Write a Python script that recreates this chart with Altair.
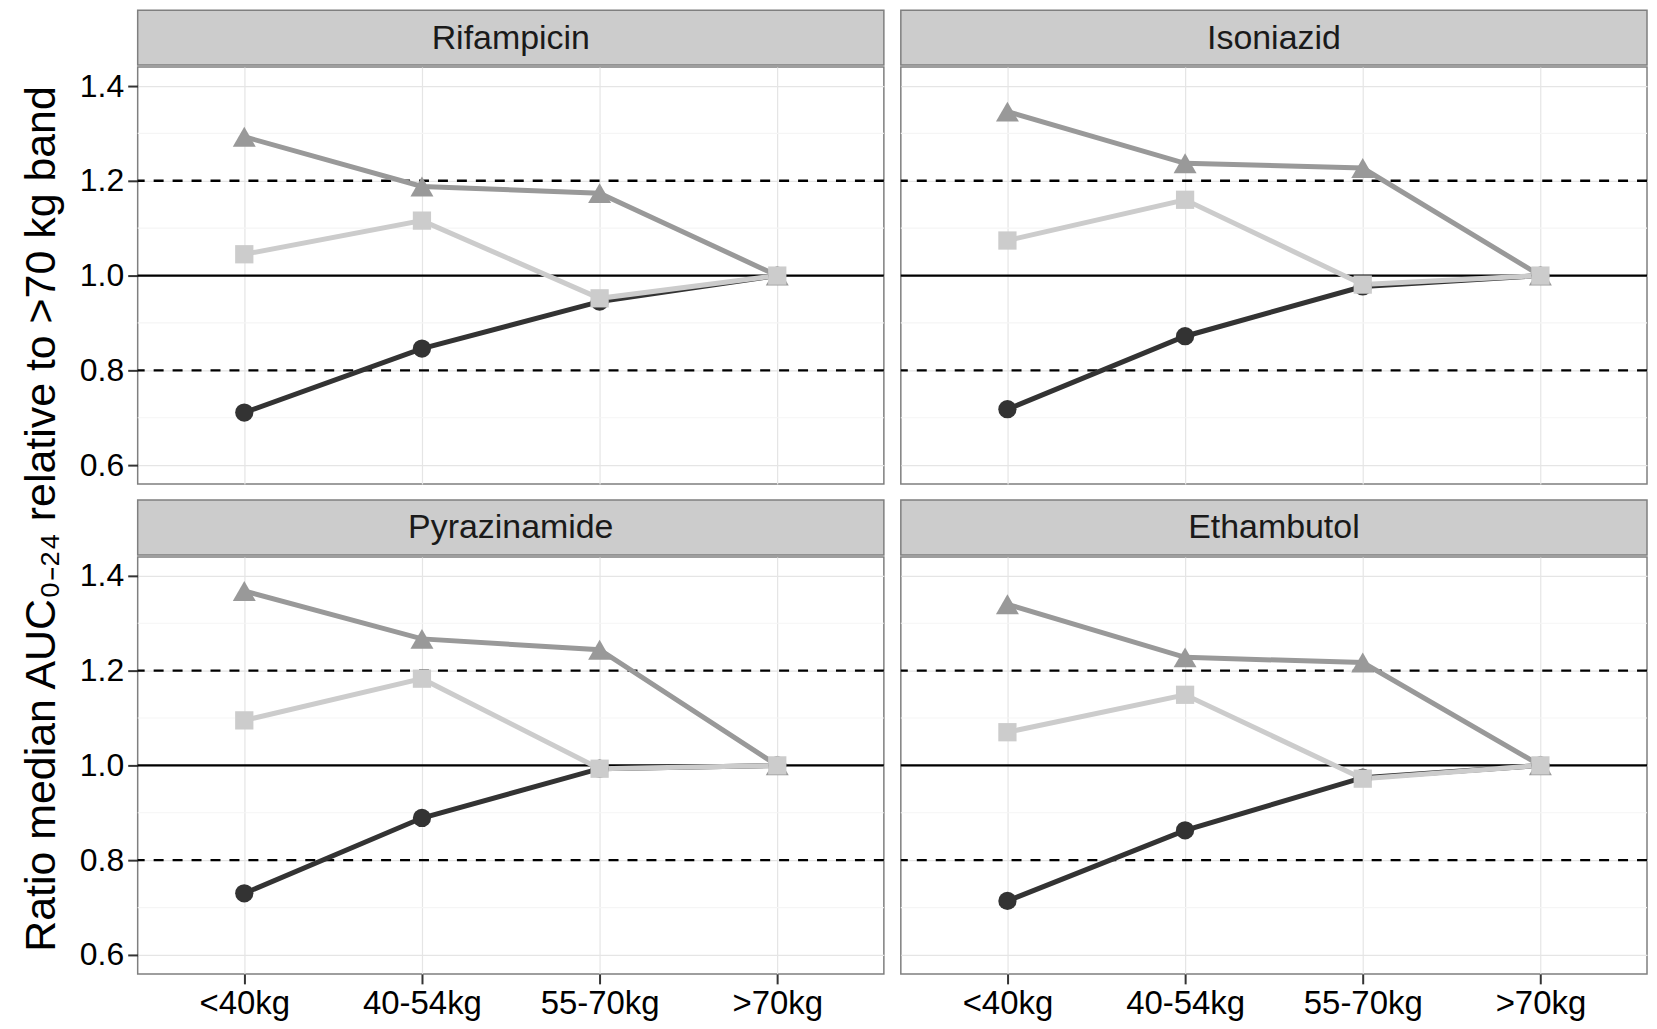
import altair as alt
import pandas as pd

FONT = "Liberation Sans"

drugs = ["Rifampicin", "Isoniazid", "Pyrazinamide", "Ethambutol"]
weight_bands = ["<40kg", "40-54kg", "55-70kg", ">70kg"]
series_names = ["Series 1", "Series 2", "Series 3"]  # circle, triangle, square

# series 1 (dark circles)
s1_rifampicin = [0.711, 0.846, 0.945, 1.0]
s1_isoniazid = [0.718, 0.872, 0.977, 1.0]
s1_pyrazinamide = [0.730, 0.889, 0.993, 1.0]
s1_ethambutol = [0.714, 0.863, 0.974, 1.0]
# series 2 (mid-grey triangles)
s2_rifampicin = [1.293, 1.188, 1.174, 1.0]
s2_isoniazid = [1.346, 1.237, 1.227, 1.0]
s2_pyrazinamide = [1.368, 1.267, 1.244, 1.0]
s2_ethambutol = [1.340, 1.228, 1.217, 1.0]
# series 3 (light-grey squares)
s3_rifampicin = [1.045, 1.116, 0.952, 1.0]
s3_isoniazid = [1.074, 1.160, 0.981, 1.0]
s3_pyrazinamide = [1.095, 1.183, 0.993, 1.0]
s3_ethambutol = [1.070, 1.149, 0.972, 1.0]

dashed_refs = [0.8, 1.2]
solid_refs = [1.0]
major_ticks = [0.6, 0.8, 1.0, 1.2, 1.4]
minor_ticks = [0.7, 0.9, 1.1, 1.3]
y_title = "Ratio median AUC\u2080\u208b\u2082\u2084 relative to >70 kg band"

values = {
    "Series 1": [s1_rifampicin, s1_isoniazid, s1_pyrazinamide, s1_ethambutol],
    "Series 2": [s2_rifampicin, s2_isoniazid, s2_pyrazinamide, s2_ethambutol],
    "Series 3": [s3_rifampicin, s3_isoniazid, s3_pyrazinamide, s3_ethambutol],
}
rows = []
for s in series_names:
    for di, d in enumerate(drugs):
        for bi, b in enumerate(weight_bands):
            rows.append({"drug": d, "band": b, "series": s, "value": values[s][di][bi]})
df = pd.DataFrame(rows)

styles = {
    "Series 1": ("#333333", "circle", 335),
    "Series 2": ("#999999", "triangle-up", 530),
    "Series 3": ("#CCCCCC", "square", 335),
}

W, H, SH = 748, 418, 55
ROWGAP, COLGAP = 14, 13
TOTAL_H = SH + H + ROWGAP + SH + H

ydomain = [0.56, 1.44]


def x_enc(show):
    if show:
        ax = alt.Axis(title=None, labelAngle=0, labelFontSize=33, labelFont=FONT,
                      labelColor="#000000", tickColor="#333333", tickSize=10, tickWidth=2,
                      labelPadding=4, domain=False, grid=True, gridColor="#E5E5E5",
                      gridWidth=1.2)
    else:
        ax = alt.Axis(title=None, labels=False, ticks=False, domain=False, grid=True,
                      gridColor="#E5E5E5", gridWidth=1.2)
    return alt.X("band:N", sort=weight_bands,
                 scale=alt.Scale(type="point", padding=0.6, domain=weight_bands), axis=ax)


def y_enc(show, field="value"):
    if show:
        ax = alt.Axis(title=None, values=major_ticks, format=".1f", labelFontSize=32,
                      labelFont=FONT, labelColor="#000000", tickColor="#333333",
                      tickSize=10, tickWidth=2, labelPadding=4, domain=False, grid=True,
                      gridColor="#E5E5E5", gridWidth=1.2)
    else:
        ax = alt.Axis(title=None, values=major_ticks, labels=False, ticks=False,
                      domain=False, grid=True, gridColor="#E5E5E5", gridWidth=1.2)
    return alt.Y(f"{field}:Q", scale=alt.Scale(domain=ydomain, nice=False, zero=False), axis=ax)


def plot(drug, show_x, show_y):
    d = df[df.drug == drug]
    layers = []
    layers.append(alt.Chart(pd.DataFrame({"value": minor_ticks})).mark_rule(
        color="#F5F5F5", strokeWidth=1.2).encode(y=y_enc(show_y)))
    layers.append(alt.Chart(pd.DataFrame({"value": dashed_refs})).mark_rule(
        color="#000000", strokeWidth=2.4, strokeDash=[10, 9]).encode(y=y_enc(show_y)))
    layers.append(alt.Chart(pd.DataFrame({"value": solid_refs})).mark_rule(
        color="#000000", strokeWidth=2.4).encode(y=y_enc(show_y)))
    for s in series_names:
        c, shp, sz = styles[s]
        layers.append(alt.Chart(d[d.series == s]).mark_line(color=c, strokeWidth=5).encode(
            x=x_enc(show_x), y=y_enc(show_y)))
    for s in series_names:
        c, shp, sz = styles[s]
        layers.append(alt.Chart(d[d.series == s]).mark_point(
            filled=True, shape=shp, size=sz, color=c, opacity=1).encode(
            x=x_enc(show_x), y=y_enc(show_y)))
    return alt.layer(*layers).properties(width=W, height=H)


def strip(drug):
    return alt.Chart(pd.DataFrame({"drug": [drug]})).mark_text(
        font=FONT, fontSize=34, color="#1A1A1A", baseline="middle", align="center", dy=1
    ).encode(text="drug:N", x=alt.value(W / 2), y=alt.value(SH / 2)).properties(
        width=W, height=SH,
        view=alt.ViewBackground(fill="#CCCCCC", stroke="#7F7F7F", strokeWidth=1.5))


def panel(drug, show_x, show_y):
    return alt.vconcat(strip(drug), plot(drug, show_x, show_y), spacing=0)


row1 = alt.hconcat(panel(drugs[0], False, True), panel(drugs[1], False, False),
                   spacing=COLGAP)
row2 = alt.hconcat(panel(drugs[2], True, True), panel(drugs[3], True, False),
                   spacing=COLGAP)
grid = alt.vconcat(row1, row2, spacing=ROWGAP)

ytitle = alt.Chart(pd.DataFrame({"t": [y_title]})).mark_text(
    angle=270, fontSize=43, font=FONT, color="#000000", baseline="alphabetic", align="center"
).encode(text="t:N", x=alt.value(46), y=alt.value(510)).properties(
    width=60, height=TOTAL_H, view=alt.ViewBackground(stroke="transparent"))

chart = alt.hconcat(ytitle, grid, spacing=8).properties(
    padding={"left": 0, "top": 0, "right": 0, "bottom": 0},
    background="#FFFFFF",
).configure_view(stroke="#7F7F7F", strokeWidth=1.5)

chart.save("out.html", embed_options={"renderer": "svg", "actions": False})
